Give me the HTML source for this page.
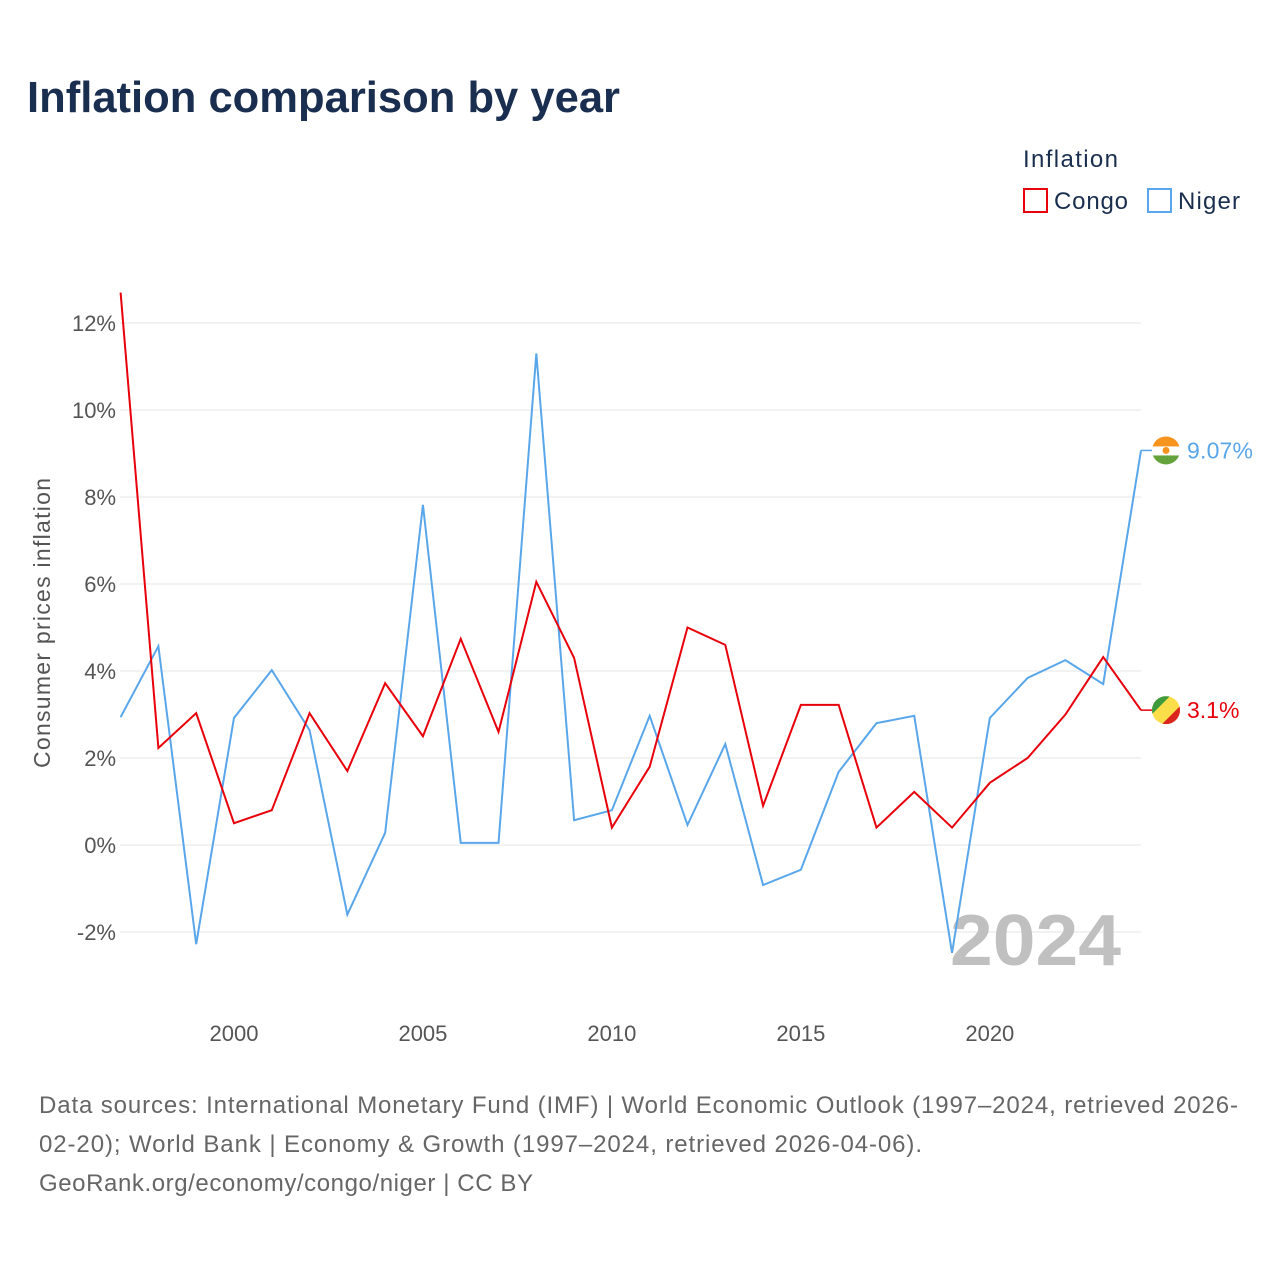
<!DOCTYPE html>
<html><head><meta charset="utf-8">
<style>
body{margin:0;background:#fff;font-family:"Liberation Sans",sans-serif;}
svg text{font-family:"Liberation Sans",sans-serif;}
</style></head>
<body>
<svg id="chart" width="1280" height="1280" viewBox="0 0 1280 1280">
<text x="27" y="112" font-size="44" font-weight="bold" fill="#1a2e4f" textLength="593" lengthAdjust="spacingAndGlyphs">Inflation comparison by year</text>
<g>
<text x="1023" y="167" font-size="24" fill="#1a2e4f" textLength="95">Inflation</text>
<g><rect x="1024" y="189" width="23" height="23" fill="none" stroke="#e8000b" stroke-width="2"/><text x="1054" y="209" font-size="24" fill="#1a2e4f" textLength="74">Congo</text></g>
<g><rect x="1148" y="189" width="23" height="23" fill="none" stroke="#5aa6ea" stroke-width="2"/><text x="1178" y="209" font-size="24" fill="#1a2e4f" textLength="62">Niger</text></g>
</g>
<g id="grid"></g>
<g id="yticks"></g>
<g id="xticks"></g>
<text transform="translate(50,623) rotate(-90)" text-anchor="middle" font-size="23" fill="#555" textLength="290">Consumer prices inflation</text>
<text x="950" y="965" font-size="72" font-weight="bold" fill="#c0c0c0" textLength="171" lengthAdjust="spacingAndGlyphs">2024</text>
<g id="series"></g>
<g id="endlabels"></g>
<text font-size="24" fill="#666">
<tspan x="39" y="1113" textLength="1199">Data sources: International Monetary Fund (IMF) | World Economic Outlook (1997–2024, retrieved 2026-</tspan>
<tspan x="39" y="1152" textLength="883">02-20); World Bank | Economy &amp; Growth (1997–2024, retrieved 2026-04-06).</tspan>
<tspan x="39" y="1191" textLength="494">GeoRank.org/economy/congo/niger | CC BY</tspan>
</text>
</svg>
<script>
const years=[1997,1998,1999,2000,2001,2002,2003,2004,2005,2006,2007,2008,2009,2010,2011,2012,2013,2014,2015,2016,2017,2018,2019,2020,2021,2022,2023,2024];
const congo=[12.7,2.23,3.03,0.5,0.8,3.03,1.7,3.72,2.5,4.74,2.6,6.05,4.3,0.4,1.8,5.0,4.6,0.9,3.22,3.22,0.4,1.22,0.4,1.43,2.0,3.0,4.32,3.1];
const niger=[2.94,4.57,-2.28,2.92,4.02,2.64,-1.6,0.28,7.82,0.05,0.05,11.3,0.57,0.8,2.97,0.46,2.32,-0.92,-0.57,1.68,2.8,2.97,-2.48,2.92,3.84,4.25,3.7,9.07];
const yTicks=[-2,0,2,4,6,8,10,12];
const xTicks=[2000,2005,2010,2015,2020];
const NS='http://www.w3.org/2000/svg';
const x=v=>120.6+(v-1997)*(1141-120.6)/27;
const y=v=>845-v*43.5;
function mk(t,a,p){const e=document.createElementNS(NS,t);for(const k in a)e.setAttribute(k,a[k]);p.appendChild(e);return e;}
const grid=document.getElementById('grid'),yt=document.getElementById('yticks'),xt=document.getElementById('xticks');
yTicks.forEach(v=>{
 const l=mk('line',{x1:120,x2:1141,y1:y(v),y2:y(v),stroke:'#e6e6e6','stroke-width':1},grid);
 
 
 const t=mk('text',{x:116,y:y(v)+8,'text-anchor':'end','font-size':22,fill:'#555'},yt);
 t.textContent=v+'%';
 
 
});
xTicks.forEach(v=>{
 const t=mk('text',{x:x(v),y:1041,'text-anchor':'middle','font-size':22,fill:'#555'},xt);
 t.textContent=v;
 
 
});
const ser=document.getElementById('series');
[[niger,'#5aa6ea','niger-line'],[congo,'#e8000b','congo-line']].forEach(([d,c,n])=>{
 const p=mk('polyline',{points:d.map((v,i)=>x(years[i])+','+y(v)).join(' '),fill:'none',stroke:c,'stroke-width':2,'stroke-linejoin':'miter'},ser);
 
 
});
const el=document.getElementById('endlabels');
const last=years.length-1;
{const cy=y(niger[last]);
 mk('line',{x1:1141,x2:1152,y1:cy,y2:cy,stroke:'#5aa6ea','stroke-width':1.5},el);
 const g=mk('g',{},el);
 const cp=mk('clipPath',{id:'cn'},g);mk('circle',{cx:1166,cy:cy,r:14},cp);
 const gg=mk('g',{'clip-path':'url(#cn)'},g);
 mk('rect',{x:1152,y:cy-14,width:28,height:10,fill:'#f7941d'},gg);
 mk('rect',{x:1152,y:cy-4,width:28,height:9,fill:'#fff'},gg);
 mk('rect',{x:1152,y:cy+5,width:28,height:10,fill:'#64a33c'},gg);
 mk('circle',{cx:1166,cy:cy,r:3.5,fill:'#f7941d'},gg);
 const t=mk('text',{x:1187,y:cy+8,'font-size':23,fill:'#5aa6ea',textLength:66},el);t.textContent=niger[last]+'%';
 }
{const cy=y(congo[last]);
 mk('line',{x1:1141,x2:1152,y1:cy,y2:cy,stroke:'#e8000b','stroke-width':1.5},el);
 const g=mk('g',{},el);
 const cp=mk('clipPath',{id:'cc'},g);mk('circle',{cx:1166,cy:cy,r:14},cp);
 const gg=mk('g',{'clip-path':'url(#cc)'},g);
 mk('rect',{x:1152,y:cy-14,width:28,height:28,fill:'#fbde4a'},gg);
 mk('polygon',{points:`1152,${cy-14} 1170,${cy-14} 1152,${cy+4}`,fill:'#3e9a3c'},gg);
 mk('polygon',{points:`1180,${cy-4} 1180,${cy+14} 1162,${cy+14}`,fill:'#dc241f'},gg);
 const t=mk('text',{x:1187,y:cy+8,'font-size':23,fill:'#e8000b'},el);t.textContent=congo[last]+'%';
 }
</script>
</body></html>
